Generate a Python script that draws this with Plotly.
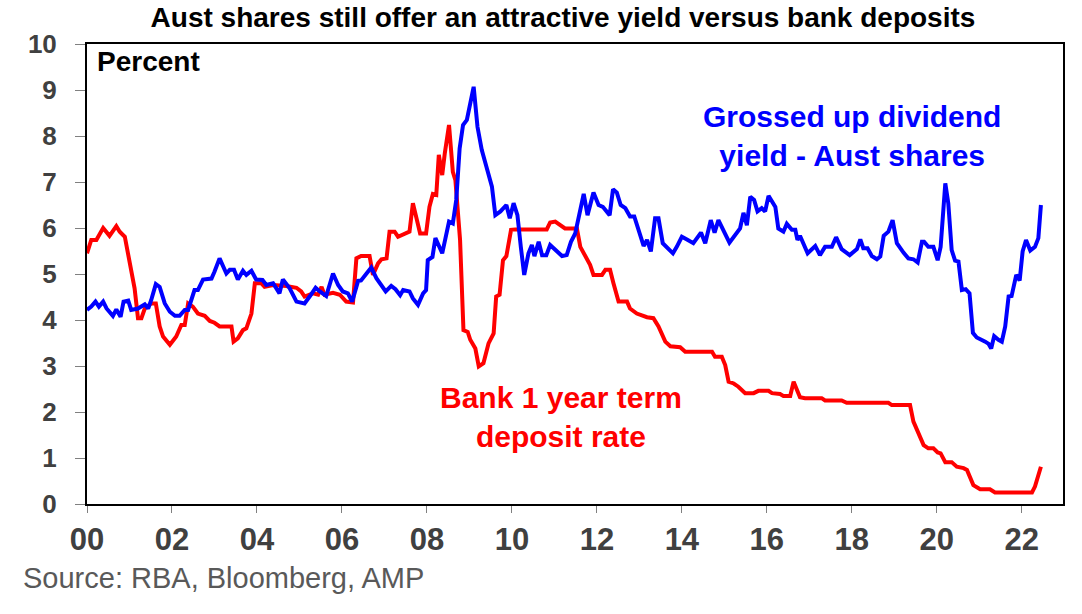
import plotly.graph_objects as go

# ---- data ----
TITLE = "Aust shares still offer an attractive yield versus bank deposits"
SOURCE = "Source: RBA, Bloomberg, AMP"

tick_years = [2000, 2002, 2004, 2006, 2008, 2010, 2012, 2014, 2016, 2018, 2020, 2022]
tick_labels = ["00", "02", "04", "06", "08", "10", "12", "14", "16", "18", "20", "22"]
y_ticks = [0, 1, 2, 3, 4, 5, 6, 7, 8, 9, 10]

deposit_years = [
    2000.00, 2000.10, 2000.22, 2000.38, 2000.53, 2000.69, 2000.77, 2000.89, 2001.12, 2001.20,
    2001.28, 2001.36, 2001.51, 2001.62, 2001.71, 2001.79, 2001.95, 2002.10, 2002.22, 2002.30,
    2002.38, 2002.49, 2002.61, 2002.77, 2002.89, 2003.00, 2003.12, 2003.40, 2003.45, 2003.55,
    2003.67, 2003.75, 2003.87, 2003.95, 2004.10, 2004.18, 2004.38, 2004.69, 2004.93, 2005.04,
    2005.12, 2005.32, 2005.44, 2005.52, 2005.59, 2005.79, 2005.95, 2006.10, 2006.26, 2006.34,
    2006.45, 2006.65, 2006.73, 2006.85, 2006.93, 2007.05, 2007.12, 2007.24, 2007.32, 2007.48,
    2007.59, 2007.67, 2007.75, 2007.84, 2007.98, 2008.06, 2008.14, 2008.22, 2008.28, 2008.36,
    2008.42, 2008.52, 2008.61, 2008.67, 2008.78, 2008.86, 2008.96, 2009.02, 2009.14, 2009.22,
    2009.33, 2009.45, 2009.57, 2009.63, 2009.71, 2009.79, 2009.87, 2009.98, 2010.08, 2010.82,
    2010.90, 2011.02, 2011.25, 2011.53, 2011.61, 2011.73, 2011.84, 2011.92, 2012.12, 2012.20,
    2012.31, 2012.39, 2012.51, 2012.71, 2012.78, 2012.94, 2013.18, 2013.33, 2013.45, 2013.61,
    2013.73, 2013.96, 2014.08, 2014.71, 2014.78, 2014.94, 2015.02, 2015.10, 2015.22, 2015.33,
    2015.49, 2015.69, 2015.80, 2016.04, 2016.12, 2016.31, 2016.39, 2016.55, 2016.63, 2016.71,
    2016.78, 2016.90, 2017.29, 2017.37, 2017.76, 2017.88, 2018.86, 2018.94, 2019.37, 2019.45,
    2019.57, 2019.69, 2019.80, 2019.92, 2020.02, 2020.09, 2020.20, 2020.35, 2020.47, 2020.63,
    2020.71, 2020.78, 2020.86, 2021.02, 2021.25, 2021.37, 2022.24, 2022.31, 2022.39, 2022.45,
]
deposit_rate = [
    5.45, 5.74, 5.74, 6.00, 5.83, 6.04, 5.92, 5.81, 4.69, 4.04,
    4.04, 4.25, 4.36, 4.36, 3.86, 3.64, 3.46, 3.64, 3.89, 3.89,
    4.36, 4.29, 4.14, 4.09, 3.98, 3.94, 3.86, 3.86, 3.53, 3.60,
    3.78, 3.82, 4.14, 4.80, 4.80, 4.72, 4.76, 4.74, 4.70, 4.62,
    4.51, 4.58, 4.55, 4.72, 4.55, 4.59, 4.55, 4.40, 4.38, 5.34,
    5.39, 5.39, 4.98, 5.23, 5.32, 5.34, 5.92, 5.92, 5.81, 5.88,
    5.92, 6.54, 6.25, 5.88, 5.88, 6.46, 6.74, 6.72, 7.59, 7.15,
    7.62, 8.24, 7.22, 7.04, 5.74, 3.78, 3.74, 3.57, 3.38, 2.99,
    3.06, 3.49, 3.71, 4.51, 4.55, 5.30, 5.39, 5.96, 5.97, 5.97,
    6.12, 6.14, 5.99, 5.99, 5.59, 5.38, 5.20, 4.98, 4.98, 5.09,
    5.09, 4.80, 4.40, 4.40, 4.25, 4.14, 4.06, 4.04, 3.86, 3.53,
    3.43, 3.41, 3.31, 3.31, 3.20, 3.20, 3.02, 2.66, 2.62, 2.55,
    2.41, 2.41, 2.46, 2.46, 2.41, 2.39, 2.35, 2.35, 2.66, 2.48,
    2.32, 2.30, 2.30, 2.25, 2.25, 2.20, 2.20, 2.15, 2.15, 1.79,
    1.54, 1.28, 1.21, 1.21, 1.12, 1.10, 0.91, 0.91, 0.81, 0.78,
    0.74, 0.59, 0.41, 0.32, 0.32, 0.25, 0.25, 0.38, 0.59, 0.81,
]

yield_years = [
    2000.00, 2000.10, 2000.20, 2000.28, 2000.38, 2000.46, 2000.61, 2000.69, 2000.79, 2000.86,
    2000.97, 2001.04, 2001.20, 2001.36, 2001.44, 2001.51, 2001.62, 2001.71, 2001.83, 2001.95,
    2002.07, 2002.18, 2002.30, 2002.38, 2002.53, 2002.61, 2002.73, 2002.93, 2003.00, 2003.12,
    2003.28, 2003.36, 2003.46, 2003.55, 2003.67, 2003.75, 2003.87, 2003.98, 2004.13, 2004.22,
    2004.38, 2004.53, 2004.61, 2004.77, 2004.93, 2005.12, 2005.24, 2005.38, 2005.48, 2005.63,
    2005.79, 2005.91, 2006.02, 2006.14, 2006.24, 2006.38, 2006.45, 2006.57, 2006.69, 2006.81,
    2007.03, 2007.16, 2007.26, 2007.37, 2007.44, 2007.59, 2007.67, 2007.79, 2007.91, 2007.98,
    2008.02, 2008.13, 2008.20, 2008.36, 2008.52, 2008.61, 2008.69, 2008.77, 2008.85, 2008.94,
    2009.10, 2009.19, 2009.29, 2009.41, 2009.53, 2009.61, 2009.73, 2009.87, 2009.95, 2010.04,
    2010.13, 2010.21, 2010.29, 2010.39, 2010.47, 2010.53, 2010.63, 2010.71, 2010.81, 2010.90,
    2011.06, 2011.18, 2011.29, 2011.39, 2011.49, 2011.59, 2011.69, 2011.78, 2011.92, 2012.04,
    2012.14, 2012.30, 2012.38, 2012.47, 2012.56, 2012.67, 2012.78, 2012.88, 2012.98, 2013.10,
    2013.18, 2013.27, 2013.37, 2013.45, 2013.55, 2013.66, 2013.79, 2013.88, 2014.00, 2014.12,
    2014.27, 2014.45, 2014.55, 2014.68, 2014.77, 2014.86, 2014.98, 2015.12, 2015.37, 2015.45,
    2015.53, 2015.61, 2015.70, 2015.78, 2015.88, 2015.96, 2016.04, 2016.20, 2016.27, 2016.39,
    2016.47, 2016.59, 2016.67, 2016.72, 2016.78, 2016.96, 2017.14, 2017.25, 2017.37, 2017.53,
    2017.63, 2017.76, 2017.95, 2018.12, 2018.20, 2018.27, 2018.37, 2018.47, 2018.59, 2018.67,
    2018.75, 2018.86, 2018.96, 2019.06, 2019.22, 2019.33, 2019.45, 2019.55, 2019.65, 2019.70,
    2019.80, 2019.92, 2020.02, 2020.09, 2020.20, 2020.27, 2020.35, 2020.43, 2020.51, 2020.59,
    2020.68, 2020.77, 2020.85, 2020.94, 2021.14, 2021.22, 2021.28, 2021.35, 2021.45, 2021.53,
    2021.61, 2021.69, 2021.76, 2021.87, 2021.95, 2022.02, 2022.10, 2022.20, 2022.31, 2022.39,
    2022.45,
]
dividend_yield = [
    4.22, 4.29, 4.40, 4.29, 4.40, 4.25, 4.09, 4.23, 4.07, 4.40,
    4.42, 4.22, 4.25, 4.34, 4.25, 4.43, 4.78, 4.72, 4.36, 4.18,
    4.09, 4.09, 4.22, 4.22, 4.65, 4.65, 4.88, 4.90, 5.05, 5.34,
    5.01, 5.09, 5.09, 4.88, 5.07, 4.98, 5.07, 4.88, 4.87, 4.76,
    4.80, 4.58, 4.88, 4.69, 4.40, 4.36, 4.51, 4.70, 4.62, 4.52,
    5.01, 4.76, 4.62, 4.58, 4.40, 4.85, 4.86, 5.01, 5.14, 4.91,
    4.62, 4.74, 4.67, 4.54, 4.65, 4.62, 4.47, 4.33, 4.58, 4.65,
    5.30, 5.37, 5.78, 5.45, 6.14, 6.10, 6.61, 7.73, 8.24, 8.35,
    9.07, 8.20, 7.70, 7.30, 6.90, 6.28, 6.36, 6.50, 6.21, 6.54,
    6.28, 5.59, 4.98, 5.45, 5.63, 5.39, 5.70, 5.41, 5.41, 5.63,
    5.49, 5.39, 5.41, 5.70, 5.88, 6.28, 6.74, 6.28, 6.77, 6.50,
    6.46, 6.28, 6.84, 6.77, 6.50, 6.43, 6.25, 6.25, 5.96, 5.61,
    5.74, 5.49, 6.21, 6.21, 5.67, 5.56, 5.45, 5.59, 5.81, 5.75,
    5.67, 5.90, 5.67, 6.17, 5.90, 6.17, 5.92, 5.68, 5.99, 6.33,
    6.06, 6.68, 6.61, 6.36, 6.43, 6.36, 6.70, 6.46, 5.99, 5.92,
    6.09, 5.96, 5.96, 5.74, 5.83, 5.45, 5.61, 5.41, 5.59, 5.59,
    5.80, 5.54, 5.41, 5.54, 5.75, 5.56, 5.56, 5.39, 5.32, 5.38,
    5.83, 5.92, 6.17, 5.67, 5.46, 5.34, 5.32, 5.25, 5.70, 5.70,
    5.59, 5.59, 5.30, 5.59, 6.97, 6.54, 5.52, 5.29, 5.27, 4.65,
    4.67, 4.58, 3.72, 3.62, 3.53, 3.48, 3.38, 3.65, 3.57, 3.53,
    3.86, 4.51, 4.52, 4.98, 4.86, 5.49, 5.74, 5.51, 5.59, 5.78,
    6.50,
]

# ---- styling ----
FONT = "Liberation Sans, Arial, sans-serif"
BLUE = "#0000FF"
RED = "#FF0000"
TICK_GREY = "#404040"

fig = go.Figure()
fig.add_trace(go.Scatter(x=deposit_years, y=deposit_rate, mode="lines",
                         line=dict(color=RED, width=4), name="Bank 1 year term deposit rate",
                         hoverinfo="skip"))
fig.add_trace(go.Scatter(x=yield_years, y=dividend_yield, mode="lines",
                         line=dict(color=BLUE, width=4), name="Grossed up dividend yield",
                         hoverinfo="skip"))

fig.update_layout(
    width=1082, height=614,
    margin=dict(l=87, r=19, t=44, b=110),
    paper_bgcolor="white", plot_bgcolor="white",
    showlegend=False,
    font=dict(family=FONT),
    title=dict(text="<b>" + TITLE + "</b>", x=0.4877, xref="paper", xanchor="center",
               y=1 - 17.5 / 614, yref="container", yanchor="middle",
               font=dict(family=FONT, size=28, color="black")),
)

fig.update_xaxes(
    range=[2000, 2022.97], tickmode="array", tickvals=tick_years, ticktext=tick_labels,
    showgrid=False, zeroline=False,
    showline=True, linecolor="black", linewidth=2, mirror=True,
    ticks="outside", ticklen=7, tickcolor="#808080", tickwidth=1,
    tickfont=dict(family=FONT, size=31, color=TICK_GREY, weight="bold"),
    ticklabelstandoff=0,
)
fig.update_yaxes(
    range=[0, 10], tickmode="array", tickvals=y_ticks,
    showgrid=False, zeroline=False,
    showline=True, linecolor="black", linewidth=2, mirror=True,
    ticks="outside", ticklen=10, tickcolor="#808080", tickwidth=1,
    tickfont=dict(family=FONT, size=26, color=TICK_GREY, weight="bold"),
    ticklabelstandoff=13,
)

annotations = [
    dict(text="<b>Percent</b>", x=0.008, y=0.962, xanchor="left", yanchor="middle",
         font=dict(size=28, color="black")),
    dict(text="<b>Grossed up dividend<br>yield - Aust shares</b>", x=0.784, y=0.80,
         xanchor="center", yanchor="middle", font=dict(size=30, color=BLUE)),
    dict(text="<b>Bank 1 year term<br>deposit rate</b>", x=0.486, y=0.19,
         xanchor="center", yanchor="middle", font=dict(size=30, color=RED)),
    dict(text=SOURCE, x=-0.0676, y=-0.161, xanchor="left", yanchor="middle",
         font=dict(size=29, color="#595959")),
]
for a in annotations:
    fig.add_annotation(xref="paper", yref="paper", showarrow=False, align="center",
                       font_family=FONT, **a)

# remove the browser's default 8px body margin so the figure fills the window exactly
fig.write_html("out.html",
               config={"displayModeBar": False, "staticPlot": True},
               post_script="document.body.style.margin='0';document.body.style.overflow='hidden';")
